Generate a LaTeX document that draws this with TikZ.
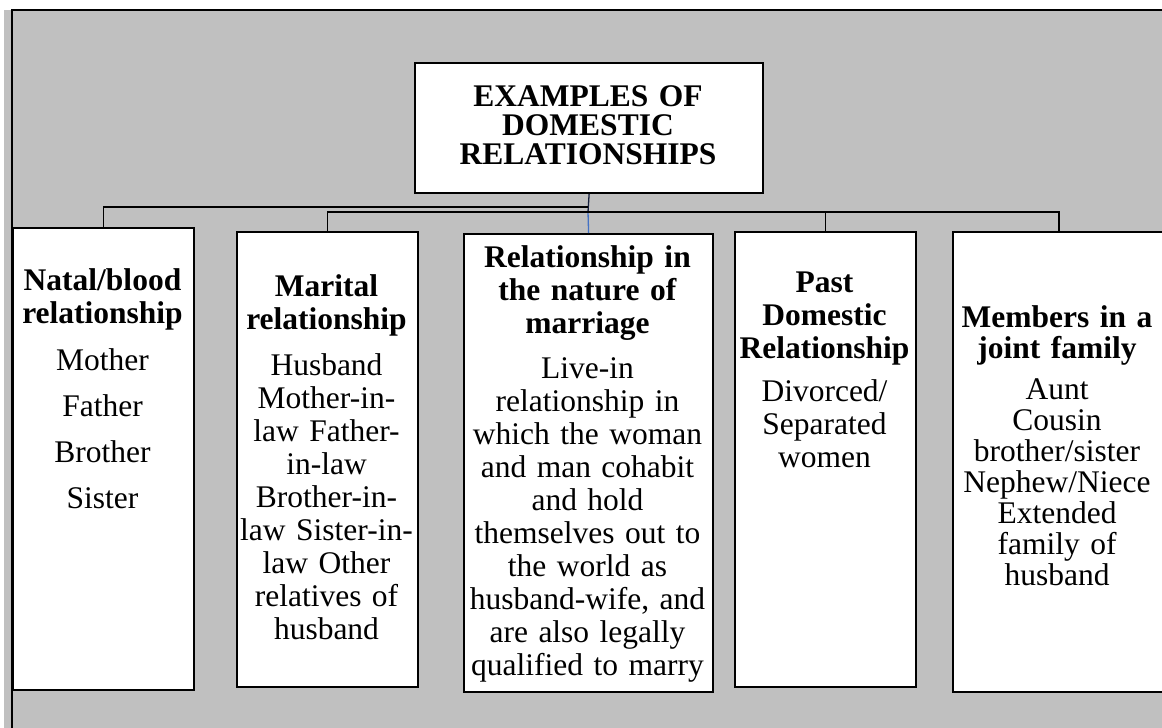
\documentclass[tikz,border=0pt]{standalone}
\usepackage{fontspec}
\setmainfont{Liberation Serif}
\definecolor{panelgray}{RGB}{192,192,192}
\definecolor{linkblue}{RGB}{68,114,196}
\definecolor{linknavy}{RGB}{20,30,60}
\begin{document}
\begin{tikzpicture}[x=1pt,y=-1pt,
  box/.style={draw=black, line width=2.2pt, fill=white, rectangle,
    inner sep=0pt, anchor=north west},
  txt/.style={anchor=base, align=center, inner sep=0pt,
    font=\fontsize{31.5}{33}\selectfont},
  link/.style={draw=black, line width=1.3pt},
]
\useasboundingbox (0,0) rectangle (1162,728);
% page and grey panel with its frame
\fill[white] (0,0) rectangle (1162,728);
\fill[panelgray] (4,10) rectangle (1162,728);
\draw[line width=2pt] (12,728) -- (12,9.5) -- (1163,9.5);

% boxes
\node[box, minimum width=348pt, minimum height=130pt] (top) at (414,62) {};
\node[box, minimum width=181pt, minimum height=462pt] (b1) at (12,227) {};
\node[box, minimum width=181pt, minimum height=455pt] (b2) at (236,231) {};
\node[box, minimum width=249pt, minimum height=458pt] (b3) at (463,233) {};
\node[box, minimum width=181pt, minimum height=455pt] (b4) at (734,231) {};
\node[box, minimum width=212pt, minimum height=460pt] (b5) at (952,231) {};

% texts
\node[txt, text width=340pt] (ttop) at (588,106)
  {\textbf{EXAMPLES OF}\\[-4pt]\textbf{DOMESTIC}\\[-4pt]\textbf{RELATIONSHIPS}};
\node[txt, text width=181pt] (t1) at (102.5,290)
  {\textbf{Natal/blood}\\\textbf{relationship}\\[14pt]Mother\\[13pt]Father\\[13pt]Brother\\[13pt]Sister};
\node[txt, text width=181pt] (t2) at (326.5,296)
  {\textbf{Marital}\\\textbf{relationship}\\[13pt]Husband\\Mother-in-\\law Father-\\in-law\\Brother-in-\\law Sister-in-\\law Other\\relatives of\\husband};
\node[txt, text width=249pt] (t3) at (587.5,267)
  {\textbf{Relationship in}\\\textbf{the nature of}\\\textbf{marriage}\\[12pt]Live-in\\relationship in\\which the woman\\and man cohabit\\and hold\\themselves out to\\the world as\\husband-wife, and\\are also legally\\qualified to marry};
\node[txt, text width=181pt] (t4) at (824.5,292)
  {\textbf{Past}\\\textbf{Domestic}\\\textbf{Relationship}\\[10pt]Divorced/\\Separated\\women};
\node[txt, text width=210pt] (t5) at (1057,327)
  {\textbf{Members in a}\\[-2pt]\textbf{joint family}\\[8pt]Aunt\\[-2pt]Cousin\\[-2pt]brother/sister\\[-2pt]Nephew/Niece\\[-2pt]Extended\\[-2pt]family of\\[-2pt]husband};

% connectors
\coordinate (busl) at (588,207);
\coordinate (busr) at (700,212);
\coordinate (drop) at (588,212);
\draw[link, draw=linknavy] (top.south) -- (drop);
\draw[link, draw=linkblue] (drop) -- (b3.north);
\draw[link] (b1.north) |- (busl);
\draw[link] (b2.north) |- (busr) -| (b5.north);
\draw[link] (b4.north) -- (b4.north |- busr);
\end{tikzpicture}
\end{document}
